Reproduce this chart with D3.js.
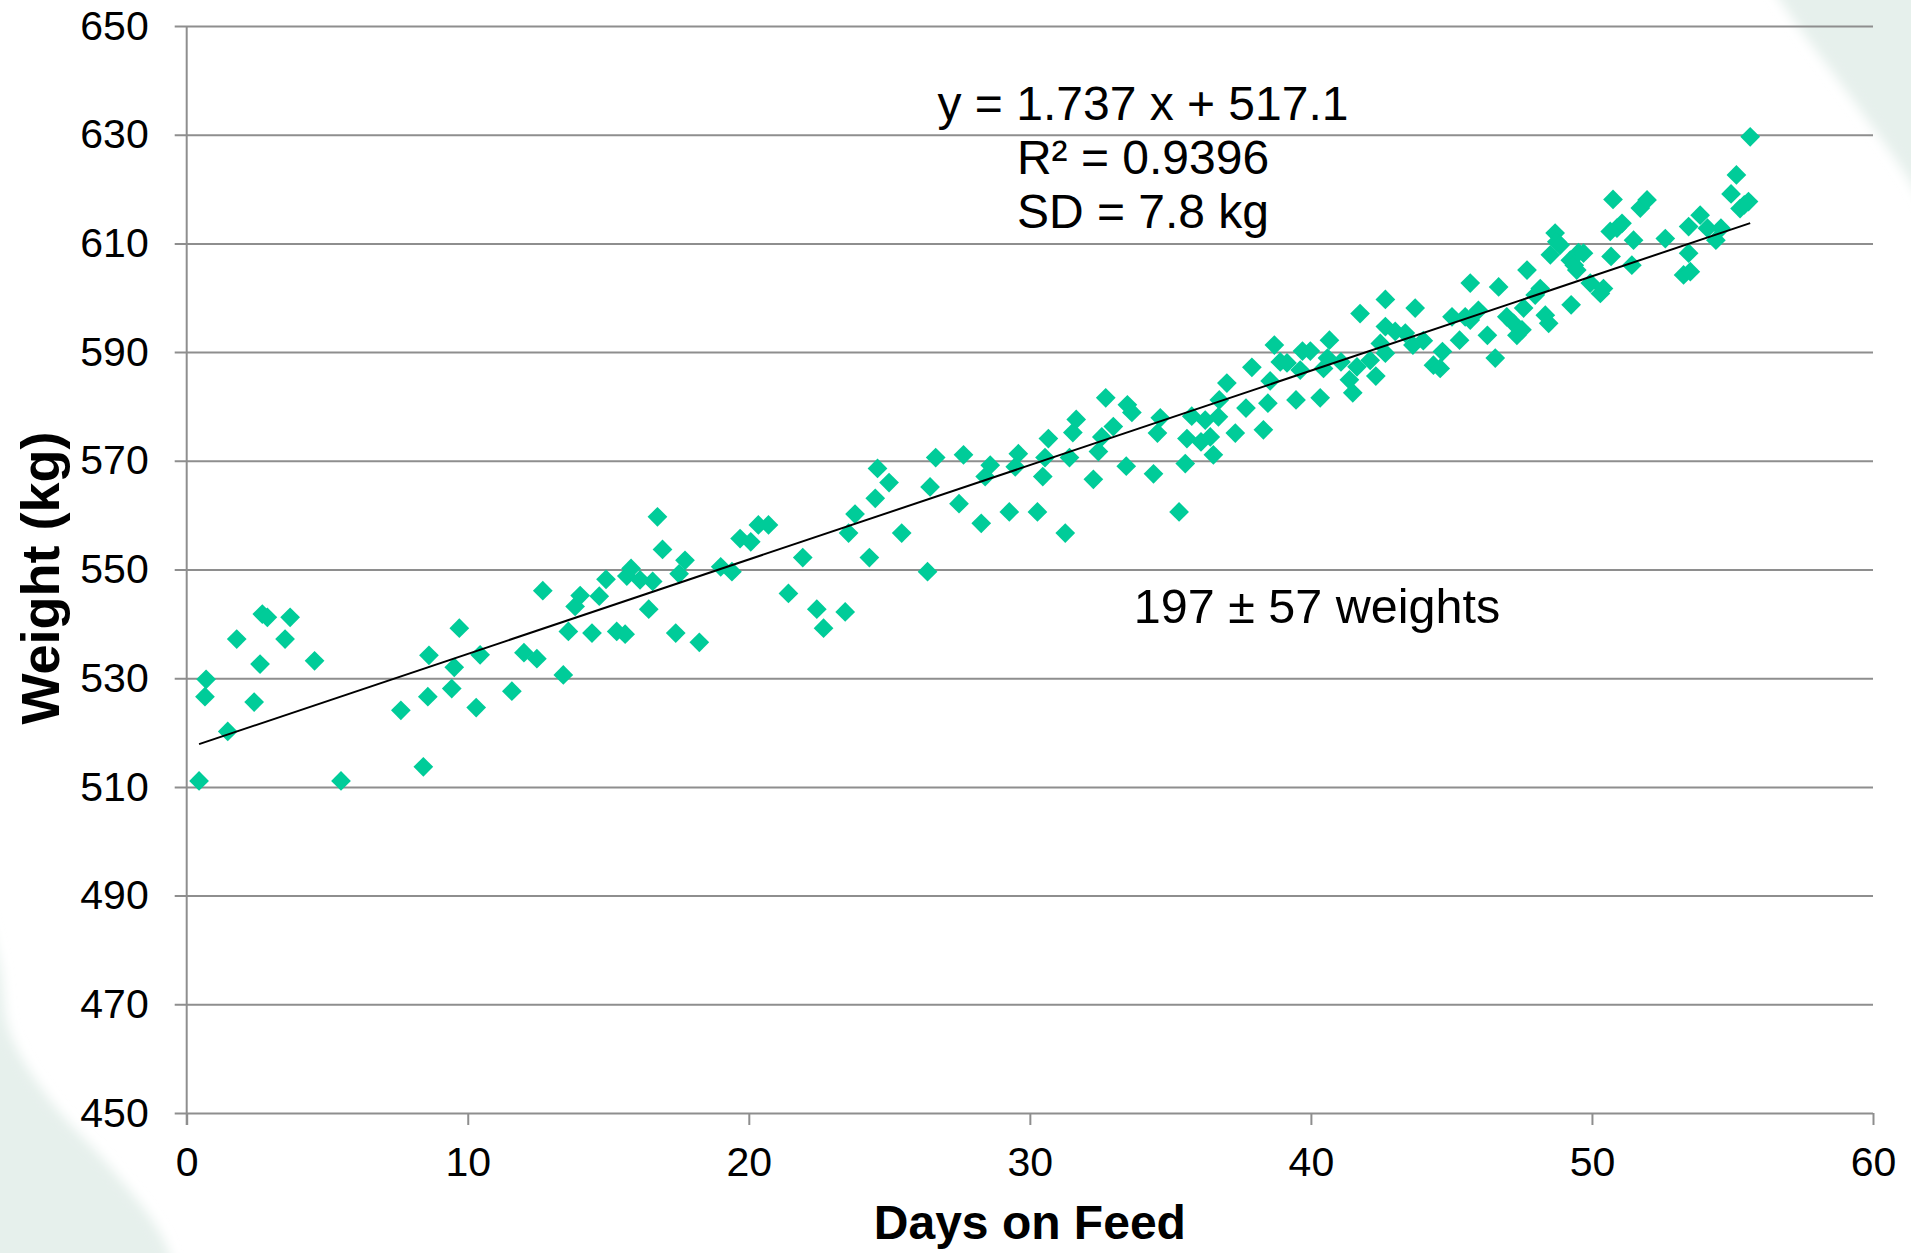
<!DOCTYPE html>
<html>
<head>
<meta charset="utf-8">
<script src="https://cdn.jsdelivr.net/npm/d3@7"></script>
<style>
  html, body { margin: 0; padding: 0; background: #fff; }
  svg { display: block; font-family: "Liberation Sans", Arial, sans-serif; }
</style>
</head>
<body>
<script>
// data: days on feed / weight (kg)
const days = [
  0.44, 0.69, 0.65, 1.46, 1.78, 2.61, 2.40, 2.69, 2.87, 3.68, 3.50, 4.55, 5.49, 7.62, 8.42, 8.58, 8.62, 9.43, 9.52, 9.70, 10.30, 10.44,
  11.57, 12.00, 12.46, 12.67, 13.40, 13.58, 13.82, 14.00, 14.42, 14.68, 14.92, 15.30, 15.60, 15.66, 15.81, 16.13, 16.44, 16.58, 16.75, 16.93,
  17.40, 17.52, 17.73, 18.24, 19.00, 19.40, 19.69, 20.07, 20.34, 20.70, 21.41,
  21.92, 22.42, 22.66, 23.43, 23.55, 23.78, 24.29, 24.50, 24.58, 24.99, 25.44, 26.36, 26.45, 26.65, 27.48, 27.64, 28.27, 28.41, 28.59,
  29.27, 29.48, 29.59, 30.27, 30.46, 30.54, 30.66, 31.26, 31.41, 31.53, 31.65,
  32.26, 32.44, 32.56, 32.70, 32.97, 33.43, 33.47, 33.63, 34.40, 34.54, 34.64, 35.31, 35.53, 35.59, 35.76, 36.09, 36.24, 36.42, 36.53,
  36.71, 36.74, 37.01, 37.31, 37.69, 37.90, 38.31, 38.47, 38.55, 38.70, 38.91, 39.15, 39.47, 39.62, 39.70, 39.98, 40.33, 40.45, 40.59,
  40.66, 41.07, 41.37, 41.49, 41.64, 41.75, 42.11, 42.31, 42.47, 42.65, 42.65, 42.65,
  43.00, 43.36, 43.63, 43.71, 44.00, 44.36, 44.60, 44.68, 45.02, 45.29, 45.49, 45.67, 45.67, 45.96, 46.28, 46.56, 46.68, 46.97, 47.21,
  47.33, 47.51, 47.57, 47.69, 47.98, 48.16, 48.34, 48.46, 48.52, 48.69, 48.75, 48.87, 49.23, 49.26, 49.37, 49.46, 49.52, 49.70, 49.94,
  50.30, 50.41, 50.65, 50.68, 50.75, 50.89, 51.07, 51.42, 51.48, 51.72, 51.96, 52.61, 53.26, 53.44, 53.44,
  53.50, 53.85, 54.11, 54.41, 54.59, 54.95, 55.14, 55.27, 55.42, 55.57, 55.63
];
const weights = [
  511.1, 529.8, 526.6, 520.2, 537.2, 532.6, 525.6, 541.8, 541.2, 541.2, 537.2, 533.2, 511.1, 524.1, 513.7, 526.6, 534.2, 528.1, 532.0, 539.2, 524.6, 534.3,
  527.6, 534.7, 533.6, 546.1, 530.6, 538.6, 543.2, 545.2, 538.3, 545.1, 548.2, 538.6, 538.1, 548.8, 550.2, 548.1, 542.7, 547.8, 559.7, 553.7,
  538.3, 549.2, 551.7, 536.6, 550.5, 549.6, 555.7, 555.1, 558.2, 558.2, 545.6,
  552.2, 542.7, 539.2, 542.2, 556.7, 560.2, 552.2, 563.1, 568.6, 566.0, 556.7, 549.6, 565.2, 570.6, 562.1, 571.1, 558.5, 567.1, 569.2,
  560.6, 568.9, 571.3, 560.6, 567.1, 570.6, 574.1, 556.7, 570.6, 575.2, 577.6,
  566.6, 571.7, 574.4, 581.6, 576.3, 569.0, 580.3, 578.9, 567.6, 575.1, 577.9, 560.6, 569.5, 574.1, 578.2, 573.5, 577.5, 574.4, 571.1,
  578.1, 581.2, 584.3, 575.1, 579.7, 587.2, 575.7, 580.6, 584.7, 591.3, 588.2, 588.0, 581.2, 586.7, 590.2, 590.2, 581.6, 587.0, 588.9,
  592.2, 588.2, 584.9, 582.5, 587.3, 597.1, 588.5, 585.6, 591.6, 589.8, 594.7, 599.7,
  593.8, 593.5, 591.3, 598.1, 592.1, 587.6, 587.0, 590.1, 596.5, 592.2, 596.5, 602.7, 595.9, 597.7, 593.1, 588.9, 602.0, 596.5, 595.3,
  593.1, 594.1, 598.1, 605.1, 600.5, 601.7, 596.8, 595.3, 607.9, 611.9, 610.3, 609.7, 606.9, 598.7, 606.0, 605.1, 608.3, 608.2, 602.7,
  600.8, 601.7, 612.2, 607.6, 618.1, 612.8, 613.7, 606.0, 610.6, 616.5, 618.0, 610.9, 604.2, 608.2, 613.1,
  604.8, 615.2, 612.8, 610.6, 612.8, 619.1, 622.6, 616.4, 617.1, 617.7, 629.6
];

const xTicks = [0, 10, 20, 30, 40, 50, 60];
const yTicks = [450, 470, 490, 510, 530, 550, 570, 590, 610, 630, 650];

// trend line as printed on the chart
const slope = 1.737;
const intercept = 517.1;
const statLines = ["y = 1.737 x + 517.1", "R² = 0.9396", "SD = 7.8 kg"];
const noteText = "197 ± 57 weights";

const W = 1911, H = 1253;
const margin = { top: 26, right: 38, bottom: 140, left: 186.7 };
const plotW = W - margin.left - margin.right;
const plotH = H - margin.top - margin.bottom;

const gridColor = "#8e8e8e";
const dotColor = "#00cc99";
const bgGreen = "#e6f0ec";

const svg = d3.select("body").append("svg")
  .attr("width", W)
  .attr("height", H);

// background: white slide with pale green corner swooshes (top right, bottom left)
const defs = svg.append("defs");
defs.append("filter").attr("id", "soft")
  .attr("x", "-20%").attr("y", "-20%").attr("width", "140%").attr("height", "140%")
  .append("feGaussianBlur").attr("stdDeviation", 6);

svg.append("rect").attr("width", W).attr("height", H).attr("fill", "#fff");

const curve = d3.line().curve(d3.curveCatmullRom);
const trEdge = [[1745, -60], [1780, 0], [1853, 100], [1911, 183], [1950, 260]];
const blEdge = [[-20, 890], [0, 965], [10, 1033], [50, 1100], [110, 1167], [160, 1233], [185, 1300]];

svg.append("path")
  .attr("d", curve(trEdge) + "L2000,260L2000,-60Z")
  .attr("fill", bgGreen)
  .attr("filter", "url(#soft)");
svg.append("path")
  .attr("d", curve(blEdge) + "L-60,1300L-60,890Z")
  .attr("fill", bgGreen)
  .attr("filter", "url(#soft)");

const x = d3.scaleLinear().domain([0, 60]).range([0, plotW]);
const y = d3.scaleLinear().domain([450, 650]).range([plotH, 0]);

const g = svg.append("g").attr("transform", `translate(${margin.left},${margin.top})`);

// y axis + horizontal gridlines
const yAxis = g.append("g")
  .call(d3.axisLeft(y).tickValues(yTicks).tickSizeInner(-plotW).tickSizeOuter(0).tickPadding(38));
yAxis.select(".domain").remove();
yAxis.selectAll(".tick line")
  .attr("x1", -12)
  .attr("stroke", gridColor)
  .attr("stroke-width", 2);
yAxis.selectAll(".tick text")
  .attr("font-size", 41)
  .attr("fill", "#000")
  .attr("font-family", "'Liberation Sans', Arial, sans-serif");

// x axis ticks
const xAxis = g.append("g")
  .attr("transform", `translate(0,${plotH})`)
  .call(d3.axisBottom(x).tickValues(xTicks).tickSize(12).tickPadding(22));
xAxis.select(".domain").remove();
xAxis.selectAll(".tick line").attr("stroke", gridColor).attr("stroke-width", 2);
xAxis.selectAll(".tick text")
  .attr("font-size", 41)
  .attr("fill", "#000")
  .attr("font-family", "'Liberation Sans', Arial, sans-serif");

// vertical axis line
g.append("line")
  .attr("x1", x(0)).attr("x2", x(0))
  .attr("y1", 0).attr("y2", plotH + 12)
  .attr("stroke", gridColor)
  .attr("stroke-width", 2);

// points
const points = days.map((d, i) => ({ day: d, weight: weights[i] }));
const diamond = d3.symbol(d3.symbolSquare, 195);

g.append("g").selectAll("path")
  .data(points)
  .join("path")
  .attr("d", diamond)
  .attr("transform", d => `translate(${x(d.day)},${y(d.weight)}) rotate(45)`)
  .attr("fill", dotColor);

// linear trend line over the data range
const [dMin, dMax] = d3.extent(days);
g.append("line")
  .attr("x1", x(dMin)).attr("y1", y(slope * dMin + intercept))
  .attr("x2", x(dMax)).attr("y2", y(slope * dMax + intercept))
  .attr("stroke", "#000")
  .attr("stroke-width", 2);

// equation block
svg.append("g").selectAll("text")
  .data(statLines)
  .join("text")
  .attr("x", 1143)
  .attr("y", (d, i) => 120 + i * 54)
  .attr("text-anchor", "middle")
  .attr("font-size", 48)
  .attr("fill", "#000")
  .text(d => d);

svg.append("text")
  .attr("x", 1317)
  .attr("y", 623)
  .attr("text-anchor", "middle")
  .attr("font-size", 48.5)
  .attr("fill", "#000")
  .text(noteText);

// axis titles
svg.append("text")
  .attr("x", margin.left + plotW / 2)
  .attr("y", 1239)
  .attr("text-anchor", "middle")
  .attr("font-size", 48)
  .attr("font-weight", "bold")
  .text("Days on Feed");

svg.append("text")
  .attr("transform", "translate(59,578) rotate(-90)")
  .attr("text-anchor", "middle")
  .attr("font-size", 54)
  .attr("font-weight", "bold")
  .text("Weight (kg)");
</script>
</body>
</html>
